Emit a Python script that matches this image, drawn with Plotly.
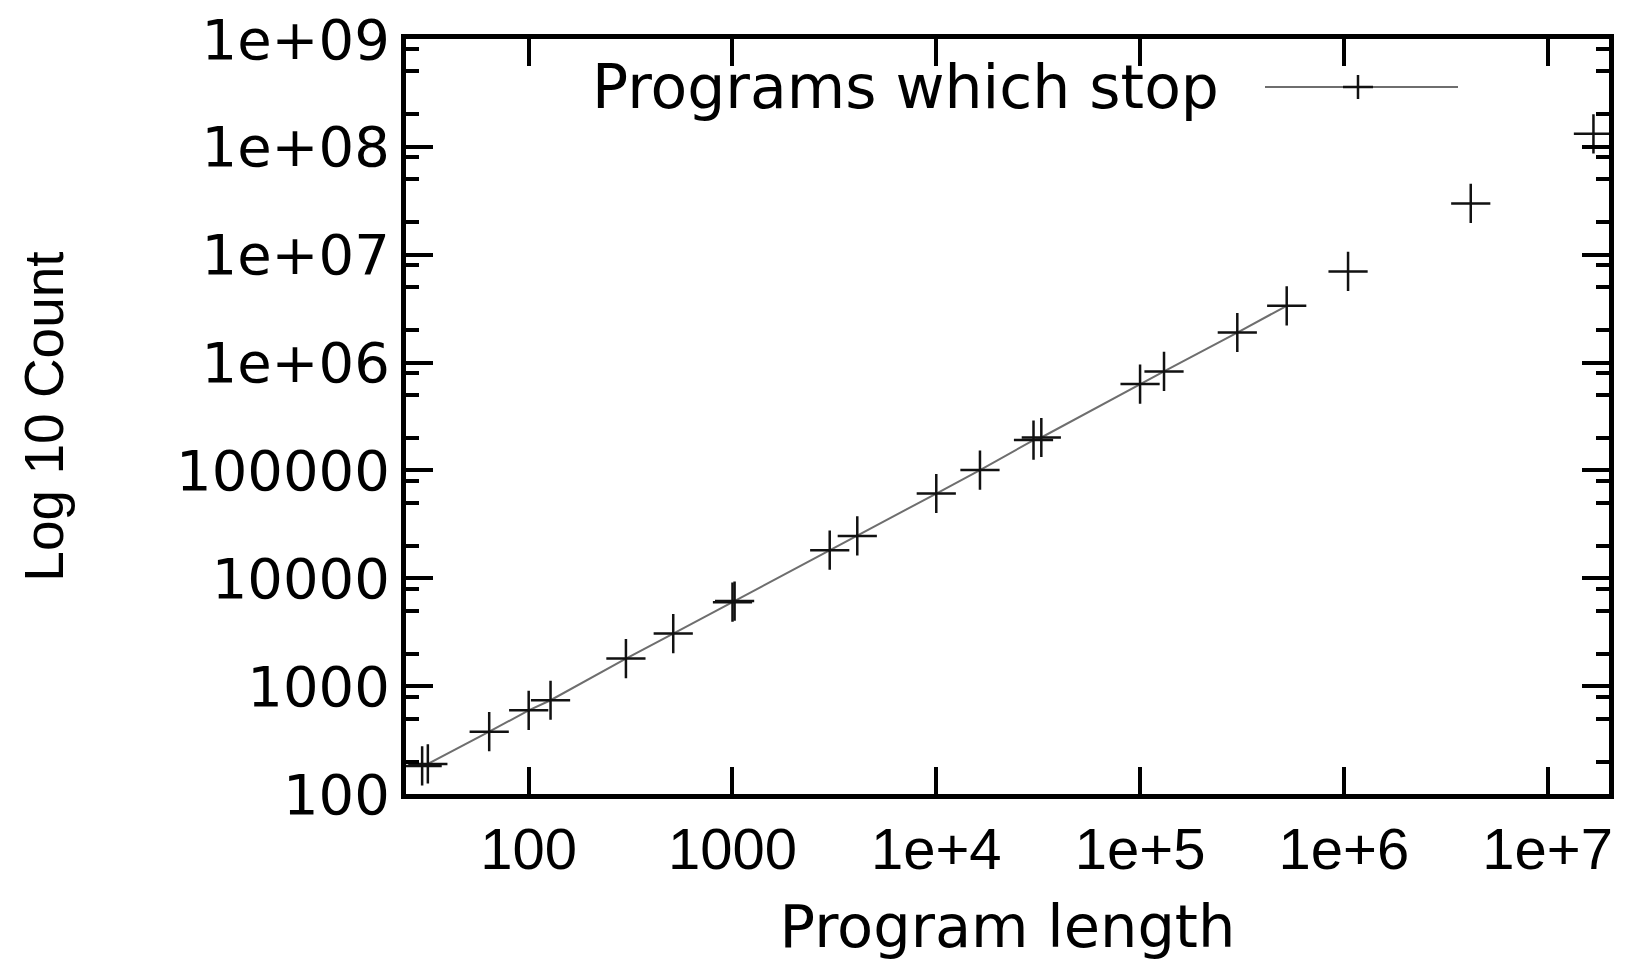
import numpy as np
import plotly.graph_objects as go

# ---- data ----
lengths_line = [30, 32, 64, 100, 128, 300, 512, 1000, 1024, 3000, 4096, 10000,
                16384, 30000, 32768, 100000, 131072, 300000, 524288]
counts_line = [182, 190, 378, 597, 740, 1800, 3070, 6000, 6150, 18240, 24700, 61100,
               100700, 191000, 202000, 632000, 828000, 1900000, 3360000]
lengths_pts = [1048576, 4194304, 16777216]
counts_pts = [7000000, 29900000, 132000000]

x_tickvals = [100, 1000, 1e4, 1e5, 1e6, 1e7]
x_ticktext = ["100", "1000", "1e+4", "1e+5", "1e+6", "1e+7"]
y_tickvals = [1e2, 1e3, 1e4, 1e5, 1e6, 1e7, 1e8, 1e9]
y_ticktext = ["100", "1000", "10000", "100000", "1e+06", "1e+07", "1e+08", "1e+09"]
y_minor = [m * 10 ** e for e in range(2, 9) for m in (2, 5, 8)]

series_name = "Programs which stop"

OFF = 8  # default page body margin
W, H = 1623, 953
ML, MT = 406 - OFF, 39 - OFF
PW, PH = 1203, 755
MR, MB = W - ML - PW, H - MT - PH

def px(xp):  # page pixel -> paper x
    return (xp - OFF - ML) / PW

def py(yp):  # page pixel -> paper y
    return (MT + PH - (yp - OFF)) / PH

fig = go.Figure()
fig.add_trace(go.Scatter(
    x=lengths_line, y=counts_line, mode="lines+markers", name=series_name,
    line=dict(color="#6e6e6e", width=2),
    marker=dict(symbol="cross-thin", size=28, color="#111111",
                line=dict(color="#111111", width=2.5)),
    showlegend=False,
))
fig.add_trace(go.Scatter(
    x=lengths_pts, y=counts_pts, mode="markers", name=series_name,
    marker=dict(symbol="cross-thin", size=28, color="#111111",
                line=dict(color="#111111", width=2.5)),
    showlegend=False,
))

# legend (gnuplot style: text on the left, sample on the right)
ly = py(87)
fig.add_annotation(x=px(1221), y=ly, xref="paper", yref="paper", text=series_name,
                   showarrow=False, xanchor="right", yanchor="middle",
                   font=dict(family="DejaVu Sans", size=60, color="black"))
fig.add_shape(type="line", xref="paper", yref="paper", x0=px(1265), x1=px(1458),
              y0=ly, y1=ly, line=dict(color="#6e6e6e", width=2))
fig.add_shape(type="line", xref="paper", yref="paper", x0=px(1343), x1=px(1373),
              y0=ly, y1=ly, line=dict(color="#111111", width=2.5))
fig.add_shape(type="line", xref="paper", yref="paper", x0=px(1358), x1=px(1358),
              y0=py(75), y1=py(99), line=dict(color="#111111", width=2.5))

axis_common = dict(
    showline=True, linecolor="black", linewidth=5, mirror="allticks",
    ticks="inside", tickcolor="black", tickwidth=4, ticklen=27,
    showgrid=False, zeroline=False, automargin=False, ticklabeloverflow="allow",
)

fig.update_xaxes(
    type="log", range=[np.log10(25), np.log10(2e7)],
    tickvals=x_tickvals, ticktext=x_ticktext,
    tickfont=dict(family="Liberation Sans", size=58, color="black"),
    title=dict(text="Program length", standoff=28,
               font=dict(family="DejaVu Sans", size=59, color="black")),
    **axis_common,
)
fig.update_yaxes(
    type="log", range=[2, 9],
    tickvals=y_tickvals, ticktext=y_ticktext,
    tickfont=dict(family="DejaVu Sans", size=56, color="black"),
    minor=dict(tickvals=y_minor, ticks="inside", ticklen=13, tickwidth=4, tickcolor="black"),
    title=dict(text="Log 10 Count", standoff=96,
               font=dict(family="Liberation Sans", size=55, color="black")),
    **axis_common,
)

fig.update_layout(
    width=W, height=H,
    margin=dict(l=ML, r=MR, t=MT, b=MB),
    paper_bgcolor="white", plot_bgcolor="white",
    showlegend=False,
)

fig.write_html("out.html")
